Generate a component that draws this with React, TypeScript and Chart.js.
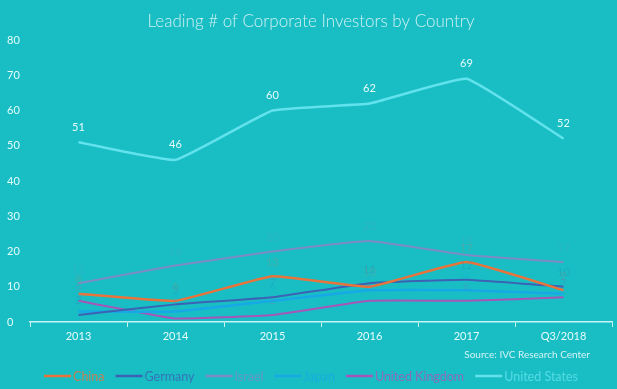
import React, { useEffect, useRef } from "react";
import { Chart, registerables } from "chart.js";

Chart.register(...registerables);

const categories = ["2013", "2014", "2015", "2016", "2017", "Q3/2018"];
const china = [8, 6, 13, 10, 17, 9];
const germany = [2, 5, 7, 11, 12, 10];
const israel = [11, 16, 20, 23, 19, 17];
const japan = [3, 3, 6, 9, 9, 8];
const unitedKingdom = [6, 1, 2, 6, 6, 7];
const unitedStates = [51, 46, 60, 62, 69, 52];
const yTicks = [0, 10, 20, 30, 40, 50, 60, 70, 80];

const TITLE = "Leading # of Corporate Investors by Country";
const SOURCE = "Source: IVC Research Center";
const FONT = "Lato, 'DejaVu Sans', sans-serif";
const BG = "#19bec4";

const seriesDefs = [
  { label: "China", data: china, color: "#e8743c", width: 2.5 },
  { label: "Germany", data: germany, color: "#3b62b4", width: 2 },
  { label: "Israel", data: israel, color: "#7d8cc4", width: 2 },
  { label: "Japan", data: japan, color: "#16a9e6", width: 2.5 },
  { label: "United Kingdom", data: unitedKingdom, color: "#a656b8", width: 2 },
  { label: "United States", data: unitedStates, color: "#62e2ec", width: 2.5 },
];

const decorPlugin = {
  id: "decor",
  beforeDraw(chart: any) {
    const { ctx, width, height } = chart;
    ctx.save();
    ctx.fillStyle = BG;
    ctx.fillRect(0, 0, width, height);
    ctx.restore();
  },
  afterDatasetsDraw(chart: any) {
    const { ctx } = chart;
    ctx.save();
    ctx.textAlign = "center";
    ctx.textBaseline = "middle";
    chart.data.datasets.forEach((ds: any, i: number) => {
      const meta = chart.getDatasetMeta(i);
      const isUS = ds.label === "United States";
      ctx.font = `11px ${FONT}`;
      ctx.fillStyle = isUS ? "#e6fbfc" : ds.borderColor;
      ctx.globalAlpha = isUS ? 1 : 0.2;
      meta.data.forEach((pt: any, j: number) => {
        ctx.fillText(String(ds.data[j]), pt.x, pt.y - (isUS ? 15 : 14));
      });
    });
    ctx.restore();
  },
  afterDraw(chart: any) {
    const { ctx } = chart;
    ctx.save();
    // title
    ctx.font = `300 17px ${FONT}`;
    ctx.fillStyle = "#cdf0f2";
    ctx.textAlign = "center";
    ctx.textBaseline = "middle";
    ctx.fillText(TITLE, 311, 22);
    // source
    ctx.font = `10px ${FONT}`;
    ctx.fillStyle = "#d4f3f5";
    ctx.textAlign = "right";
    ctx.fillText(SOURCE, 590, 355);
    // legend
    ctx.font = `12.5px ${FONT}`;
    const lineLen = 27;
    const gap = 2;
    const spacing = 11;
    const widths = chart.data.datasets.map(
      (ds: any) => lineLen + gap + ctx.measureText(ds.label).width
    );
    const total =
      widths.reduce((a: number, b: number) => a + b, 0) +
      spacing * (widths.length - 1);
    let x = 311 - total / 2;
    const y = 376;
    ctx.textAlign = "left";
    chart.data.datasets.forEach((ds: any, i: number) => {
      ctx.strokeStyle = ds.borderColor;
      ctx.lineWidth = 2.5;
      ctx.beginPath();
      ctx.moveTo(x, y);
      ctx.lineTo(x + lineLen, y);
      ctx.stroke();
      ctx.fillStyle = ds.borderColor;
      ctx.globalAlpha = 0.8;
      ctx.fillText(ds.label, x + lineLen + gap, y + 1);
      ctx.globalAlpha = 1;
      x += widths[i] + spacing;
    });
    ctx.restore();
  },
};

export default function App() {
  const ref = useRef<HTMLCanvasElement | null>(null);
  useEffect(() => {
    document.body.style.margin = "0";
    document.body.style.background = BG;
    const canvas = ref.current!;
    const chart = new Chart(canvas, {
      type: "line",
      data: {
        labels: categories,
        datasets: seriesDefs.map((s) => ({
          label: s.label,
          data: s.data,
          borderColor: s.color,
          backgroundColor: s.color,
          borderWidth: s.width,
          pointRadius: 0,
          pointHoverRadius: 0,
          tension: 0.1,
          fill: false,
        })),
      },
      options: {
        responsive: false,
        animation: false,
        layout: { padding: { top: 40, left: 7, right: 5, bottom: 0 } },
        plugins: {
          legend: { display: false },
          title: { display: false },
          tooltip: { enabled: false },
        },
        scales: {
          x: {
            offset: true,
            border: { display: true, color: "#c8f4f6", width: 1.5 },
            grid: {
              display: true,
              drawOnChartArea: false,
              drawTicks: true,
              tickLength: 5,
              color: "#c8f4f6",
              offset: true,
            },
            ticks: {
              color: "#e6fbfc",
              font: { family: FONT, size: 11 },
              padding: 3,
              maxRotation: 0,
            },
            afterFit(scale: any) {
              scale.height = 67;
            },
          },
          y: {
            min: 0,
            max: 80,
            border: { display: false },
            grid: { display: false },
            afterBuildTicks(scale: any) {
              scale.ticks = yTicks.map((v) => ({ value: v }));
            },
            ticks: {
              color: "#e6fbfc",
              font: { family: FONT, size: 11 },
              crossAlign: "far",
              padding: 0,
            },
            afterFit(scale: any) {
              scale.width = 23;
            },
          },
        },
      },
      plugins: [decorPlugin],
    });
    return () => chart.destroy();
  }, []);
  return (
    <div style={{ width: 617, height: 389, background: BG }}>
      <canvas ref={ref} width={617} height={389} style={{ display: "block" }} />
    </div>
  );
}
